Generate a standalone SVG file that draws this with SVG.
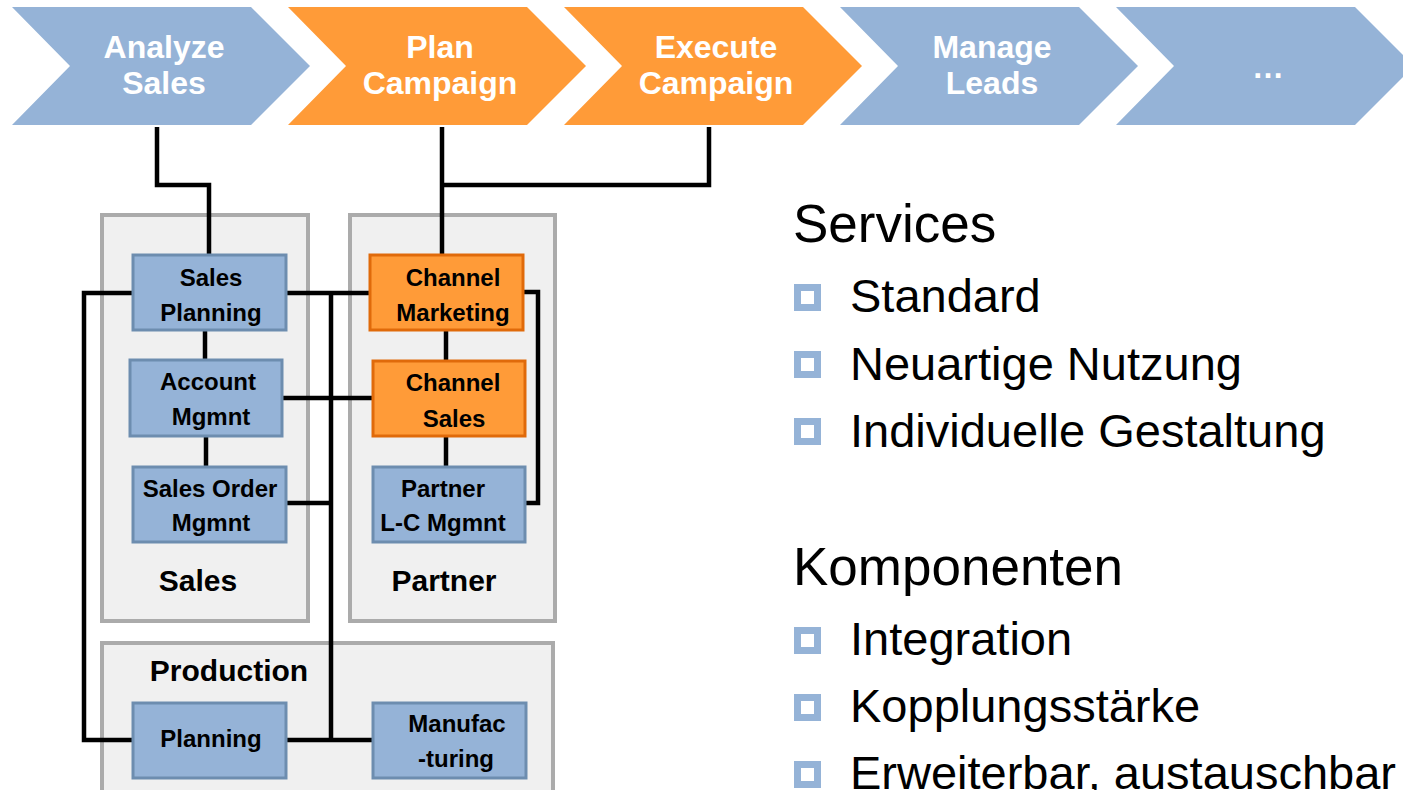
<svg xmlns="http://www.w3.org/2000/svg" width="1403" height="790" viewBox="0 0 1403 790">
<style>
.chev-b{fill:#95B3D7}
.chev-o{fill:#FF9B38}
.chev-t{font-family:"Liberation Sans",Arial,sans-serif;font-weight:bold;font-size:32px;fill:#FFFFFF;text-anchor:middle}
.cont{fill:#F0F0F0;stroke:#ABABAB;stroke-width:4}
.box-b{fill:#95B3D7;stroke:#6D8DAF;stroke-width:3}
.box-o{fill:#FF9B38;stroke:#E06A0A;stroke-width:3}
.bt{font-family:"Liberation Sans",Arial,sans-serif;font-weight:bold;font-size:24px;fill:#000;text-anchor:middle}
.lab{font-family:"Liberation Sans",Arial,sans-serif;font-weight:bold;font-size:30px;fill:#000;text-anchor:middle}
.conn path{fill:none;stroke:#000;stroke-width:4.5;stroke-linejoin:miter}
.h{font-family:"Liberation Sans",Arial,sans-serif;font-size:53px;fill:#000}
.it{font-family:"Liberation Sans",Arial,sans-serif;font-size:47px;fill:#000}
.bul{fill:#FFFFFF;stroke:#95B3D7;stroke-width:7}
</style>

<g id="chevron-analyze-sales">
<polygon class="chev-b" points="12,7 251,7 310,66 251,125 12,125 70,66"/>
<text class="chev-t" x="164" y="58">Analyze</text>
<text class="chev-t" x="164" y="94">Sales</text>
</g>
<g id="chevron-plan-campaign">
<polygon class="chev-o" points="288,7 527,7 586,66 527,125 288,125 346,66"/>
<text class="chev-t" x="440" y="58">Plan</text>
<text class="chev-t" x="440" y="94">Campaign</text>
</g>
<g id="chevron-execute-campaign">
<polygon class="chev-o" points="564,7 803,7 862,66 803,125 564,125 622,66"/>
<text class="chev-t" x="716" y="58">Execute</text>
<text class="chev-t" x="716" y="94">Campaign</text>
</g>
<g id="chevron-manage-leads">
<polygon class="chev-b" points="840,7 1079,7 1138,66 1079,125 840,125 898,66"/>
<text class="chev-t" x="992" y="58">Manage</text>
<text class="chev-t" x="992" y="94">Leads</text>
</g>
<g id="chevron-more">
<polygon class="chev-b" points="1116,7 1355,7 1414,66 1355,125 1116,125 1174,66"/>
<text class="chev-t" x="1268" y="78">…</text>
</g>

<g id="container-sales">
<rect class="cont" x="102" y="215" width="206" height="406"/>
<text class="lab" x="198" y="591">Sales</text>
</g>
<g id="container-partner">
<rect class="cont" x="350" y="215" width="205" height="406"/>
<text class="lab" x="444" y="591">Partner</text>
</g>
<g id="container-production">
<rect class="cont" x="102" y="643" width="451" height="200"/>
<text class="lab" x="229" y="681">Production</text>
</g>

<g class="conn" id="connectors">
<path d="M157,127 V185 H209 V255"/>
<path d="M709,127 V185 H442"/>
<path d="M442,127 V255"/>
<path d="M133,293 H84 V740 H133"/>
<path d="M286,293 H370"/>
<path d="M331,293 V740"/>
<path d="M282,398 H373"/>
<path d="M286,503 H331"/>
<path d="M286,740 H373"/>
<path d="M205,330 V360"/>
<path d="M206,436 V467"/>
<path d="M446,330 V361"/>
<path d="M446,436 V467"/>
<path d="M523,292 H538 V503 H525"/>
</g>

<g id="node-sales-planning">
<rect class="box-b" x="133" y="255" width="153" height="75"/>
<text class="bt" x="211" y="286">Sales</text>
<text class="bt" x="211" y="321">Planning</text>
</g>
<g id="node-account-mgmnt">
<rect class="box-b" x="130" y="360" width="152" height="76"/>
<text class="bt" x="208" y="390">Account</text>
<text class="bt" x="211" y="425">Mgmnt</text>
</g>
<g id="node-sales-order-mgmnt">
<rect class="box-b" x="133" y="467" width="153" height="75"/>
<text class="bt" x="210" y="497">Sales Order</text>
<text class="bt" x="211" y="531">Mgmnt</text>
</g>
<g id="node-channel-marketing">
<rect class="box-o" x="370" y="255" width="153" height="75"/>
<text class="bt" x="453" y="286">Channel</text>
<text class="bt" x="453" y="321">Marketing</text>
</g>
<g id="node-channel-sales">
<rect class="box-o" x="373" y="361" width="152" height="75"/>
<text class="bt" x="453" y="391">Channel</text>
<text class="bt" x="454" y="427">Sales</text>
</g>
<g id="node-partner-lc-mgmnt">
<rect class="box-b" x="373" y="467" width="152" height="75"/>
<text class="bt" x="443" y="497">Partner</text>
<text class="bt" x="443" y="531">L-C Mgmnt</text>
</g>
<g id="node-planning">
<rect class="box-b" x="133" y="703" width="153" height="75"/>
<text class="bt" x="211" y="747">Planning</text>
</g>
<g id="node-manufacturing">
<rect class="box-b" x="373" y="703" width="153" height="75"/>
<text class="bt" x="457" y="732">Manufac</text>
<text class="bt" x="456" y="767">-turing</text>
</g>

<g id="text-services">
<text class="h" x="793" y="242">Services</text>
<rect class="bul" x="797.5" y="287.5" width="20" height="20"/>
<text class="it" x="850" y="312">Standard</text>
<rect class="bul" x="797.5" y="354.5" width="20" height="20"/>
<text class="it" x="850" y="380">Neuartige Nutzung</text>
<rect class="bul" x="797.5" y="421.5" width="20" height="20"/>
<text class="it" x="850" y="447">Individuelle Gestaltung</text>
</g>
<g id="text-komponenten">
<text class="h" x="793" y="585">Komponenten</text>
<rect class="bul" x="797.5" y="630.5" width="20" height="20"/>
<text class="it" x="850" y="655">Integration</text>
<rect class="bul" x="797.5" y="697.5" width="20" height="20"/>
<text class="it" x="850" y="722">Kopplungsstärke</text>
<rect class="bul" x="797.5" y="764.5" width="20" height="20"/>
<text class="it" x="850" y="789">Erweiterbar, austauschbar</text>
</g>
</svg>
